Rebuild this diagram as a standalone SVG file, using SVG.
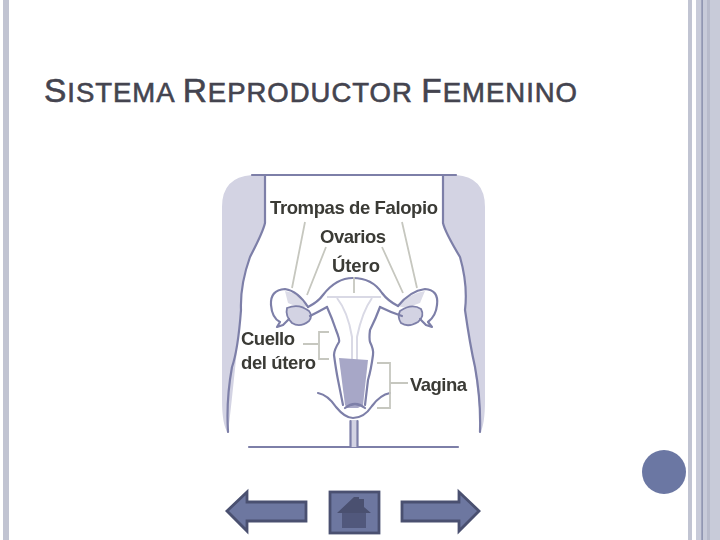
<svg xmlns="http://www.w3.org/2000/svg" width="720" height="540" viewBox="0 0 720 540">
<style>
.o{fill:none;stroke:#7d7fa8;stroke-width:2.200;stroke-linecap:round;stroke-linejoin:round}
.lt{fill:none;stroke:#d9d9e5;stroke-width:2}
.l{fill:none;stroke:#c6c7bf;stroke-width:1.800}
.t{font-family:"Liberation Sans",Arial,sans-serif;font-size:18.500px;font-weight:bold;fill:#3a3a36}
.side{fill:#d3d3e3}
.org{fill:#d3d3e3;stroke:#7d7fa8;stroke-width:1.800}
.fim{fill:#dcdce8}
.nav{fill:#6d77a0;stroke:#4a5070;stroke-width:2.800;stroke-linejoin:miter}
</style>
<defs><filter id="b" x="-5%" y="-5%" width="110%" height="110%"><feGaussianBlur stdDeviation=".5"/></filter></defs>
<rect width="720" height="540" fill="#fff"/>
<g id="frame">
<rect x="3" y="0" width="6" height="540" fill="#c1c4d2"/>
<rect x="688" y="0" width="4" height="540" fill="#c1c4d2"/>
<rect x="696" y="0" width="24" height="540" fill="#c8cbd9"/>
<rect x="701.500" y="0" width="1.200" height="540" fill="#7a80a2"/>
<rect x="707" y="0" width="3" height="540" fill="#b8bbcb"/>
</g>
<text id="title" x="44" y="102" textLength="533" font-family="'Liberation Sans',Arial,sans-serif" fill="#44444f" stroke="#44444f" stroke-width=".6" font-size="27.500"><tspan font-size="33.500">S</tspan>ISTEMA <tspan font-size="33.500">R</tspan>EPRODUCTOR <tspan font-size="33.500">F</tspan>EMENINO</text>
<g id="illustration" filter="url(#b)">
<path class="side" d="M265 175H252Q222 177 222 207V400Q222 425 228 433Q232 400 241 310Q240 285 250 257Q263 232 265 223Z"/>
<path class="side" d="M443 175H456Q485 177 485 207V400Q485 425 480 433Q481 400 465 310Q468 285 460 257Q445 232 443 223Z"/>
<g id="body">
<path class="o" d="M252 175H456"/>
<path class="o" d="M265 175V223Q263 232 250 257Q240 285 241 310Q238 350 232 367Q226 400 228 432"/>
<path class="o" d="M443 175V223Q445 232 460 257Q468 285 465 310Q470 345 475 367Q481 400 480 432"/>
<path class="o" d="M249 447H458" stroke-width="3"/>
</g>
<g id="organs">
<path class="fim" d="M285 291Q300 293 308 306L300 308L288 303Z"/>
<path class="fim" d="M425 291Q410 293 398 306L406 308L420 303Z"/>
<path class="org" d="M287 308Q299 303 309 311Q313 316 309 321Q300 328 292 323Q285 316 287 308Z"/>
<path class="org" d="M400 311Q412 303 421 309Q425 316 418 322Q408 328 401 323Q397 317 400 311Z"/>
<path class="o" d="M308 307Q318 302 323 295Q336 278 353 278Q372 278 382 293Q388 301 398 306"/>
<path class="o" d="M327 307Q332 318 336 330Q340 340 339 342Q334 350 334 355Q336 370 338 380L343 405"/>
<path class="o" d="M380 307Q376 318 370 330Q369 338 370 342Q374 350 373 355Q371 370 368 380L365 405"/>
<path class="o" d="M327 307Q318 312 310 316M380 307Q390 312 402 316"/>
<path class="o" d="M308 307Q298 291 285 289Q270 290 271 305Q272 318 280 322L277 327L283 325L289 319"/>
<path class="o" d="M398 306Q410 291 425 289Q439 290 437 305Q436 316 428 322L432 327L426 325L420 319"/>
<path class="lt" d="M327 297H381M337 298Q348 312 352 337V362M372 298Q362 312 357 337V362"/>
<path d="M339 358L368 360L363 405L358 408H347L345 405Z" fill="#a7a7c7"/>
<path class="o" d="M345 408Q355 400 365 408" stroke-width="1.600"/>
<path class="o" d="M318 393Q328 395 336 407Q345 418 353 418Q364 418 372 406Q380 395 390 393"/>
<path d="M351 420H357V447H351Z" fill="#d3d3e3"/>
<path class="o" d="M350.500 421V447M357.500 421V447" stroke-width="2.400"/>
</g>
<g id="connectors">
<path class="l" d="M305 222L292 288M326 247L307 295M382 247L403 293M402 222L417 288M354 277V293"/>
<path class="l" d="M303 344H318M329 332H319V359H329"/>
<path class="l" d="M377 363H390V408H377M390 383H408"/>
</g>
<g id="labels">
<text class="t" x="270" y="214" textLength="168">Trompas de Falopio</text>
<text class="t" x="320" y="243" textLength="66">Ovarios</text>
<text class="t" x="332" y="272" textLength="48">Útero</text>
<text class="t" x="241" y="345" textLength="54">Cuello</text>
<text class="t" x="241" y="369" textLength="75">del útero</text>
<text class="t" x="410" y="391" textLength="57">Vagina</text>
</g>
</g>
<circle id="dot" cx="664" cy="472" r="22" fill="#6b77a3"/>
<g id="nav-prev"><path class="nav" d="M227 511L247 492V502H306V521H247V531Z"/></g>
<g id="nav-home">
<rect class="nav" x="330" y="492" width="49" height="41"/>
<path d="M342 513H366V528H342Z" fill="#51587c"/>
<path d="M337 513L354 497H359V499H364V507L371 513Z" fill="#4a5070"/>
</g>
<g id="nav-next"><path class="nav" d="M402 502H459V492L479 511L459 531V521H402Z"/></g>
</svg>
